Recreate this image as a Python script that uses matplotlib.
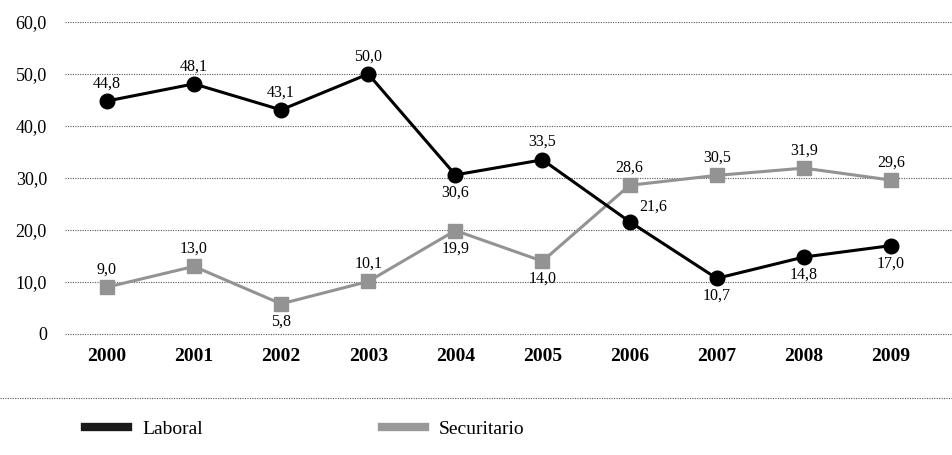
import numpy as np
import matplotlib
matplotlib.use('Agg')
import matplotlib.pyplot as plt
from matplotlib.lines import Line2D

years = ['2000', '2001', '2002', '2003', '2004', '2005', '2006', '2007', '2008', '2009']
laboral = [44.8, 48.1, 43.1, 50.0, 30.6, 33.5, 21.6, 10.7, 14.8, 17.0]
securitario = [9.0, 13.0, 5.8, 10.1, 19.9, 14.0, 28.6, 30.5, 31.9, 29.6]
# where each value label sits: 'a' above, 'b' below, 'r' right-above
laboral_pos = ['a', 'a', 'a', 'a', 'b', 'a', 'r', 'b', 'b', 'b']
securitario_pos = ['a', 'a', 'b', 'a', 'b', 'b', 'a', 'a', 'a', 'a']
yticks = [0, 10, 20, 30, 40, 50, 60]

BLACK = '#000000'
GRAY = '#939393'

def fmt(v):
    return ('%.1f' % v).replace('.', ',')

def main():
    plt.rcParams['font.family'] = ['Liberation Serif', 'DejaVu Serif']
    fig = plt.figure(figsize=(9.53, 4.55), dpi=100)
    # y from -1 to 60 -> pixel 339 to 22
    ax = fig.add_axes([65/953, 1-339.2/455, 887/953, 317.2/455])
    x = np.arange(len(years))

    ax.plot(x, securitario, color=GRAY, lw=2.2, marker='s', ms=9.5,
            clip_on=False, zorder=3)
    ax.plot(x, laboral, color=BLACK, lw=2.2, marker='o', ms=10.5,
            clip_on=False, zorder=4)

    for vals, pos in [(laboral, laboral_pos), (securitario, securitario_pos)]:
        for xi, v, p in zip(x, vals, pos):
            if p == 'a':
                ax.annotate(fmt(v), (xi, v), xytext=(0, 7), textcoords='offset points',
                            ha='center', va='bottom', fontsize=11.5)
            elif p == 'b':
                ax.annotate(fmt(v), (xi, v), xytext=(0, -7), textcoords='offset points',
                            ha='center', va='top', fontsize=11.5)
            else:
                ax.annotate(fmt(v), (xi, v), xytext=(7, 5), textcoords='offset points',
                            ha='left', va='bottom', fontsize=11.5)

    ax.set_xlim(-0.48, 9.7)
    ax.set_ylim(-1, 60)
    ax.set_yticks(yticks)
    ax.set_yticklabels(['0' if t == 0 else fmt(t) for t in yticks], fontsize=13)
    ax.set_xticks(x)
    ax.set_xticklabels(years, fontsize=14, fontweight='bold')
    ax.tick_params(axis='both', length=0)
    ax.tick_params(axis='x', pad=6)
    ax.tick_params(axis='y', pad=13)
    for s in ax.spines.values():
        s.set_visible(False)
    ax.grid(axis='y', color='#555555', lw=0.8, ls=(0, (1, 1.2)))
    ax.set_axisbelow(True)

    # separator above legend
    fig.add_artist(Line2D([0, 1], [1-398/455, 1-398/455], color='#555555',
                          lw=0.8, ls=(0, (1, 1.2)), transform=fig.transFigure))

    handles = [Line2D([], [], color='#1a1a1a', lw=6),
               Line2D([], [], color='#999999', lw=6)]
    fig.legend(handles, ['Laboral', 'Securitario'], loc='center left',
               bbox_to_anchor=(85/953, 1-429/455), ncol=2, frameon=False,
               fontsize=14, handlelength=2.2, handletextpad=0.75,
               columnspacing=9.2, borderpad=0, borderaxespad=0)

    fig.savefig('out.png', dpi=100)
    plt.close(fig)

if __name__ == '__main__':
    main()
